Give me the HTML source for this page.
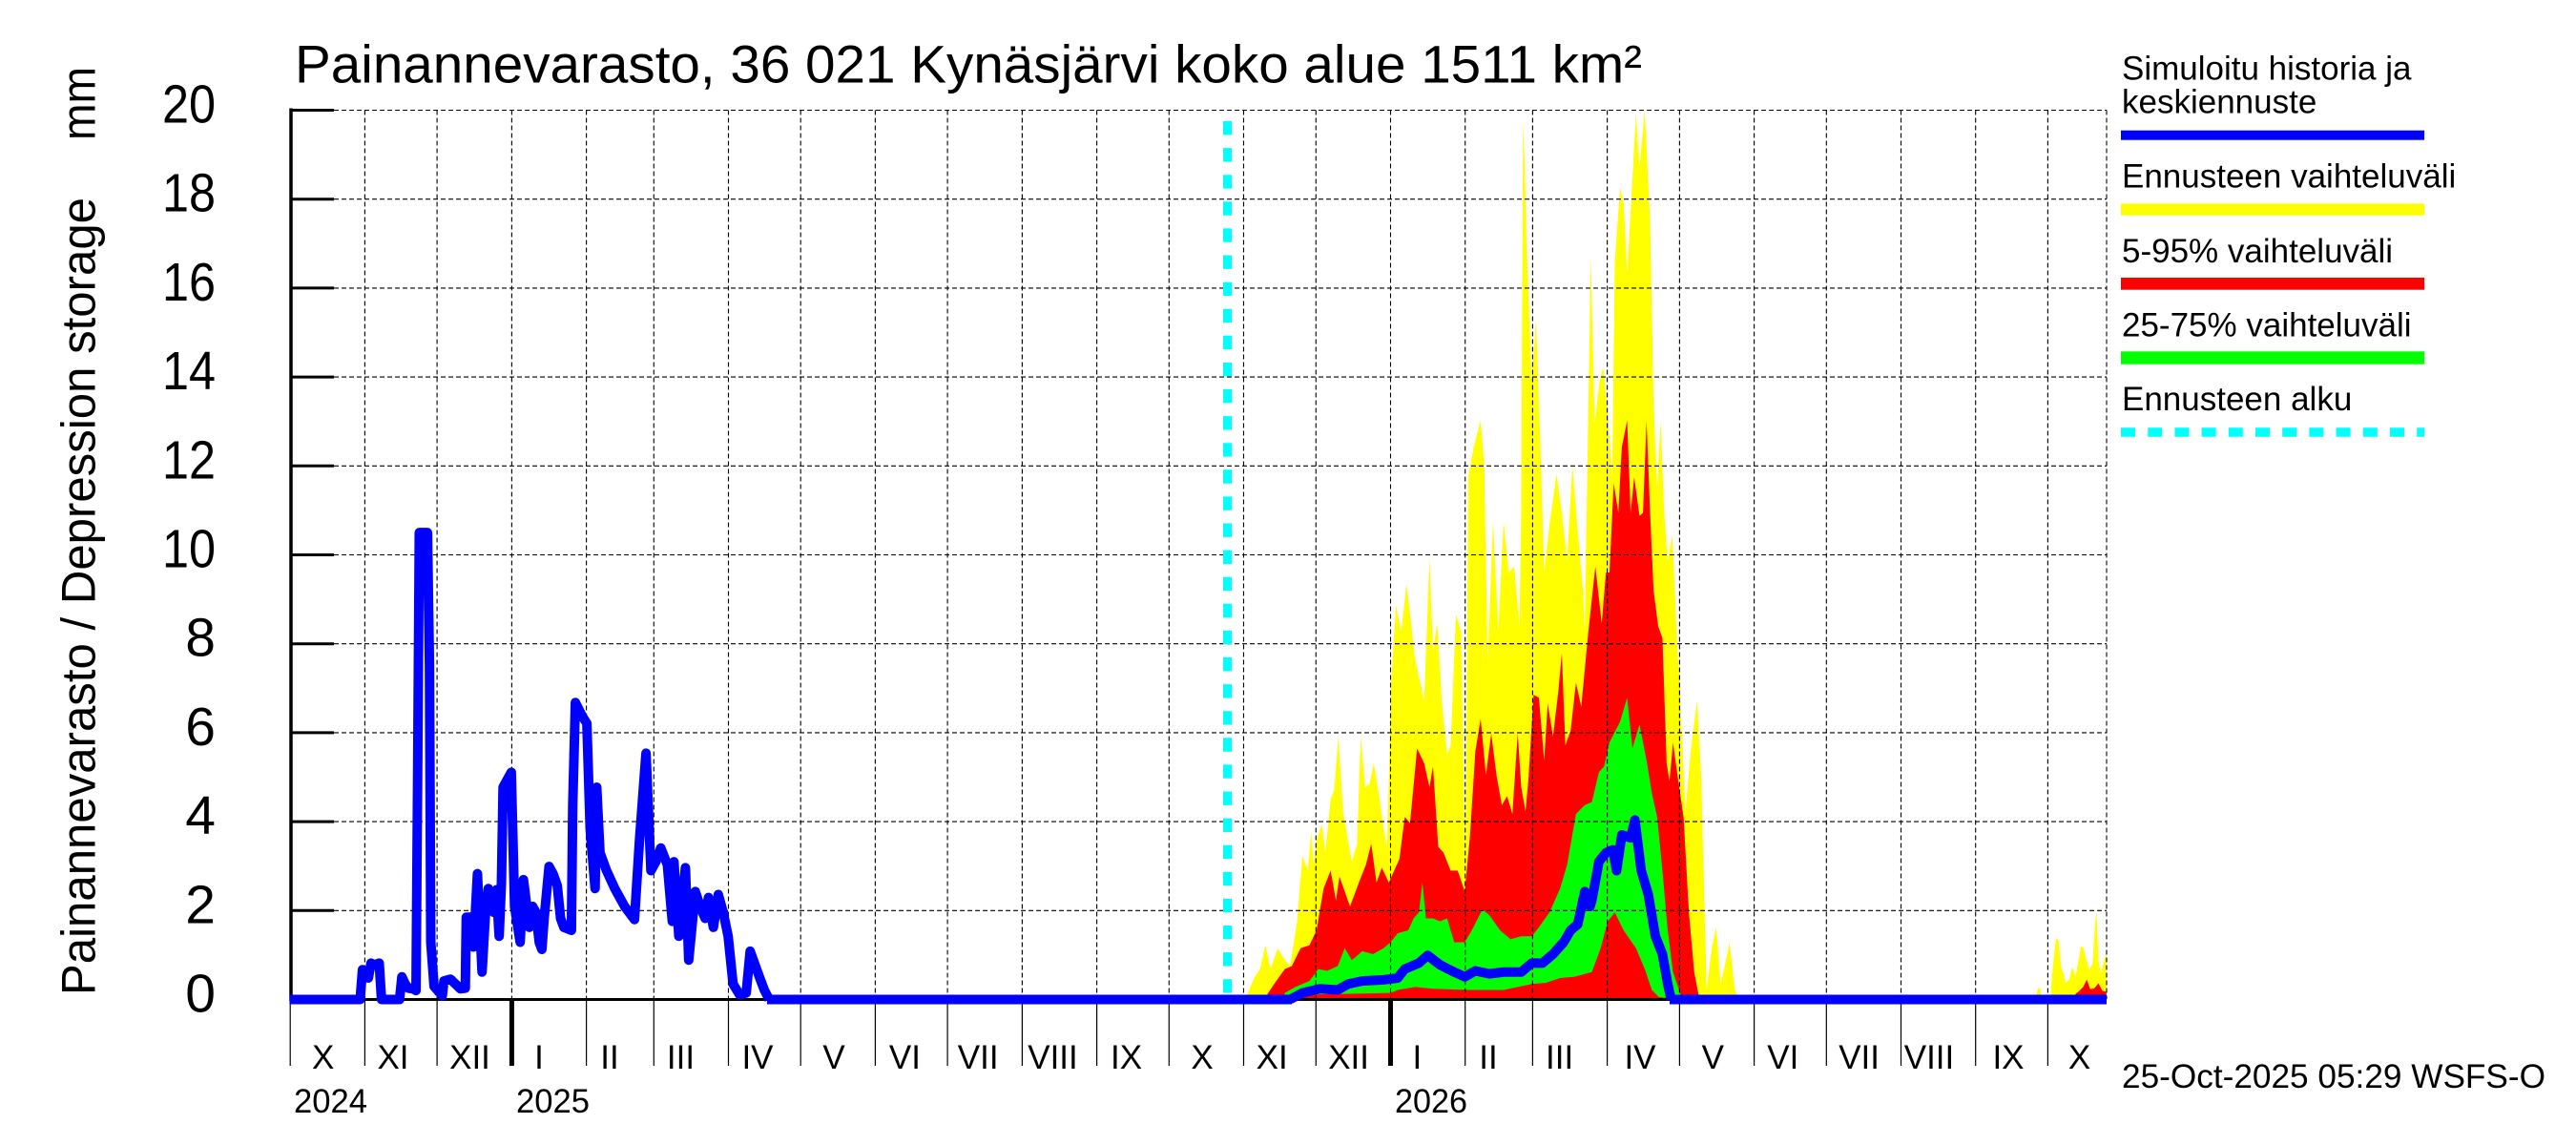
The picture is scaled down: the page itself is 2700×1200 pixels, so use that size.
<!DOCTYPE html>
<html>
<head>
<meta charset="utf-8">
<style>
  html, body { margin: 0; padding: 0; background: #ffffff; }
  svg { display: block; }
  text { font-family: "Liberation Sans", Arial, sans-serif; fill: #000; }
</style>
</head>
<body>
<svg width="2700" height="1200" viewBox="0 0 2700 1200" xmlns="http://www.w3.org/2000/svg">
  <rect x="0" y="0" width="2700" height="1200" fill="#ffffff"/>

  <!-- ===== Forecast bands (zoom-5 coordinate space) ===== -->
  <g transform="translate(1280,100) scale(0.36996,0.625)">
    <polygon fill="#ffff00" points="70,1516 75,1505 95,1478 110,1465 125,1425 140,1465 160,1430 175,1445 195,1460 215,1385 230,1275 245,1300 255,1235 262,1290 270,1250 285,1222 295,1270 310,1180 320,1165 332,1075 345,1200 358,1245 370,1285 385,1255 395,1075 408,1160 420,1155 432,1120 445,1165 460,1230 470,1260 482,980 495,855 510,900 525,820 535,870 548,940 560,975 575,1015 590,775 600,930 612,885 625,1015 640,1105 650,1090 665,870 680,900 692,1335 700,640 715,590 735,545 745,620 755,950 770,715 785,900 800,715 815,800 830,790 845,890 850,700 855,45 860,120 865,250 880,480 892,375 905,600 915,800 930,720 950,635 965,700 980,780 995,620 1010,730 1025,830 1030,900 1047,270 1058,550 1072,480 1082,455 1095,530 1108,640 1115,280 1130,155 1140,180 1150,300 1165,140 1175,30 1185,120 1200,25 1215,210 1225,520 1235,660 1245,545 1255,700 1265,780 1278,738 1290,900 1300,1000 1315,1200 1330,1100 1348,1015 1360,1145 1375,1500 1390,1430 1402,1395 1415,1490 1430,1450 1440,1420 1455,1500 1470,1516"/>
    <polygon fill="#ff0000" points="125,1516 130,1508 150,1490 180,1465 200,1460 225,1430 250,1425 270,1400 290,1330 310,1300 325,1350 335,1310 350,1335 365,1360 390,1320 410,1290 425,1255 440,1320 455,1295 475,1320 490,1300 505,1280 520,1210 535,1220 555,1095 575,1120 590,1160 600,1125 615,1260 630,1270 650,1300 670,1300 690,1335 705,1240 720,1100 735,1045 750,1140 765,1070 780,1140 795,1190 810,1175 825,1205 840,1070 850,1160 862,1200 870,1150 885,1005 900,1010 915,1115 925,1020 940,1075 955,1000 965,935 975,1090 990,1065 1005,985 1020,1025 1040,900 1060,790 1078,885 1090,800 1100,800 1112,650 1125,700 1135,590 1150,545 1160,700 1170,640 1185,705 1195,700 1205,545 1215,700 1225,830 1238,890 1250,910 1262,1120 1270,1150 1280,1085 1295,1150 1310,1210 1325,1370 1340,1470 1355,1516"/>
    <polygon fill="#00ff00" points="175,1516 180,1505 210,1495 250,1485 275,1465 300,1468 330,1460 350,1430 370,1450 400,1435 430,1440 460,1430 480,1420 500,1405 530,1400 545,1380 560,1370 570,1320 580,1380 600,1380 620,1385 640,1380 660,1420 690,1420 710,1400 740,1365 760,1375 790,1400 820,1415 850,1410 880,1410 900,1395 930,1370 960,1330 980,1290 1005,1205 1030,1190 1050,1185 1070,1135 1085,1125 1100,1085 1130,1050 1150,1010 1165,1095 1185,1055 1205,1115 1220,1170 1235,1210 1250,1300 1265,1400 1280,1470 1300,1505 1305,1516 1240,1512 1220,1500 1200,1465 1175,1430 1140,1400 1115,1370 1095,1385 1075,1430 1050,1470 1000,1478 960,1480 920,1488 880,1490 800,1500 700,1500 600,1498 550,1495 500,1500 480,1505 230,1508"/>
  </g>

  <!-- Right-end small forecast bits (zoom-6 coordinate space) -->
  <g transform="translate(1900,880) scale(0.5102,0.33333)">
    <polygon fill="#ffff00" points="458,503 462,468 467,466 471,503 488,503 492,420 496,360 500,312 505,315 510,400 515,420 520,450 527,440 533,400 540,430 546,380 551,335 556,340 561,370 568,410 575,390 580,260 583,230 587,380 592,420 597,390 603,355 603,503"/>
    <polygon fill="#ff0000" points="536,503 540,485 548,475 556,462 563,440 570,470 578,468 587,452 595,475 603,478 603,503"/>
  </g>

  <!-- ===== Grid (dashed) ===== -->
  <g stroke="#000" stroke-width="1.1" stroke-dasharray="5 3" fill="none">
    <line x1="350" y1="115.5" x2="2208" y2="115.5"/>
    <line x1="350" y1="208.7" x2="2208" y2="208.7"/>
    <line x1="350" y1="301.9" x2="2208" y2="301.9"/>
    <line x1="350" y1="395.1" x2="2208" y2="395.1"/>
    <line x1="350" y1="488.3" x2="2208" y2="488.3"/>
    <line x1="350" y1="581.5" x2="2208" y2="581.5"/>
    <line x1="350" y1="674.7" x2="2208" y2="674.7"/>
    <line x1="350" y1="767.9" x2="2208" y2="767.9"/>
    <line x1="350" y1="861.1" x2="2208" y2="861.1"/>
    <line x1="350" y1="954.3" x2="2208" y2="954.3"/>

    <line x1="382.4" y1="115.5" x2="382.4" y2="1047"/>
    <line x1="458.1" y1="115.5" x2="458.1" y2="1047"/>
    <line x1="536.4" y1="115.5" x2="536.4" y2="1047"/>
    <line x1="614.6" y1="115.5" x2="614.6" y2="1047"/>
    <line x1="685.3" y1="115.5" x2="685.3" y2="1047"/>
    <line x1="763.5" y1="115.5" x2="763.5" y2="1047"/>
    <line x1="839.2" y1="115.5" x2="839.2" y2="1047"/>
    <line x1="917.4" y1="115.5" x2="917.4" y2="1047"/>
    <line x1="993.1" y1="115.5" x2="993.1" y2="1047"/>
    <line x1="1071.4" y1="115.5" x2="1071.4" y2="1047"/>
    <line x1="1149.6" y1="115.5" x2="1149.6" y2="1047"/>
    <line x1="1225.3" y1="115.5" x2="1225.3" y2="1047"/>
    <line x1="1303.5" y1="115.5" x2="1303.5" y2="1047"/>
    <line x1="1379.3" y1="115.5" x2="1379.3" y2="1047"/>
    <line x1="1457.5" y1="115.5" x2="1457.5" y2="1047"/>
    <line x1="1535.7" y1="115.5" x2="1535.7" y2="1047"/>
    <line x1="1606.4" y1="115.5" x2="1606.4" y2="1047"/>
    <line x1="1684.6" y1="115.5" x2="1684.6" y2="1047"/>
    <line x1="1760.4" y1="115.5" x2="1760.4" y2="1047"/>
    <line x1="1838.6" y1="115.5" x2="1838.6" y2="1047"/>
    <line x1="1914.3" y1="115.5" x2="1914.3" y2="1047"/>
    <line x1="1992.5" y1="115.5" x2="1992.5" y2="1047"/>
    <line x1="2070.7" y1="115.5" x2="2070.7" y2="1047"/>
    <line x1="2146.4" y1="115.5" x2="2146.4" y2="1047"/>
    <line x1="2208" y1="115.5" x2="2208" y2="1047"/>
  </g>

  <!-- ===== Axes ===== -->
  <line x1="304" y1="1047.5" x2="2208" y2="1047.5" stroke="#000" stroke-width="3"/>
  <line x1="305" y1="113.5" x2="305" y2="1049" stroke="#000" stroke-width="3.5"/>
  <g stroke="#000" stroke-width="3">
    <line x1="304" y1="115.5" x2="350" y2="115.5"/>
    <line x1="304" y1="208.7" x2="350" y2="208.7"/>
    <line x1="304" y1="301.9" x2="350" y2="301.9"/>
    <line x1="304" y1="395.1" x2="350" y2="395.1"/>
    <line x1="304" y1="488.3" x2="350" y2="488.3"/>
    <line x1="304" y1="581.5" x2="350" y2="581.5"/>
    <line x1="304" y1="674.7" x2="350" y2="674.7"/>
    <line x1="304" y1="767.9" x2="350" y2="767.9"/>
    <line x1="304" y1="861.1" x2="350" y2="861.1"/>
    <line x1="304" y1="954.3" x2="350" y2="954.3"/>
  </g>
  <!-- month separators below axis -->
  <g stroke="#000" stroke-width="1.2">
    <line x1="304.2" y1="1047" x2="304.2" y2="1117"/>
    <line x1="382.4" y1="1047" x2="382.4" y2="1117"/>
    <line x1="458.1" y1="1047" x2="458.1" y2="1117"/>
    <line x1="614.6" y1="1047" x2="614.6" y2="1117"/>
    <line x1="685.3" y1="1047" x2="685.3" y2="1117"/>
    <line x1="763.5" y1="1047" x2="763.5" y2="1117"/>
    <line x1="839.2" y1="1047" x2="839.2" y2="1117"/>
    <line x1="917.4" y1="1047" x2="917.4" y2="1117"/>
    <line x1="993.1" y1="1047" x2="993.1" y2="1117"/>
    <line x1="1071.4" y1="1047" x2="1071.4" y2="1117"/>
    <line x1="1149.6" y1="1047" x2="1149.6" y2="1117"/>
    <line x1="1225.3" y1="1047" x2="1225.3" y2="1117"/>
    <line x1="1303.5" y1="1047" x2="1303.5" y2="1117"/>
    <line x1="1379.3" y1="1047" x2="1379.3" y2="1117"/>
    <line x1="1535.7" y1="1047" x2="1535.7" y2="1117"/>
    <line x1="1606.4" y1="1047" x2="1606.4" y2="1117"/>
    <line x1="1684.6" y1="1047" x2="1684.6" y2="1117"/>
    <line x1="1760.4" y1="1047" x2="1760.4" y2="1117"/>
    <line x1="1838.6" y1="1047" x2="1838.6" y2="1117"/>
    <line x1="1914.3" y1="1047" x2="1914.3" y2="1117"/>
    <line x1="1992.5" y1="1047" x2="1992.5" y2="1117"/>
    <line x1="2070.7" y1="1047" x2="2070.7" y2="1117"/>
    <line x1="2146.4" y1="1047" x2="2146.4" y2="1117"/>
  </g>
  <g stroke="#000" stroke-width="5">
    <line x1="536.4" y1="1047" x2="536.4" y2="1117"/>
    <line x1="1457.5" y1="1047" x2="1457.5" y2="1117"/>
  </g>

  <!-- ===== Blue lines ===== -->
  <g transform="translate(300,100) scale(0.34438,0.625)">
    <polyline fill="none" stroke="#0000ff" stroke-width="10" vector-effect="non-scaling-stroke" stroke-linejoin="round"
      points="10,1516 225,1516 232,1466 240,1474 250,1480 258,1455 270,1458 283,1455 290,1516 345,1516 352,1478 362,1490 372,1497 385,1498 395,1501 400,1138 405,733 430,733 436,958 440,1420 450,1494 475,1510 480,1485 500,1482 530,1498 545,1497 548,1378 565,1378 570,1428 582,1305 596,1470 606,1375 615,1330 625,1345 632,1370 640,1332 648,1410 655,1320 660,1160 685,1135 695,1360 712,1420 722,1315 740,1395 750,1360 760,1370 770,1420 778,1432 785,1380 800,1293 812,1305 825,1325 835,1380 845,1395 868,1400 872,1190 880,1018 900,1040 915,1053 925,1230 940,1330 945,1160 955,1270 975,1300 1000,1330 1030,1360 1060,1382 1075,1250 1095,1103 1110,1300 1125,1285 1140,1262 1160,1290 1175,1385 1180,1285 1195,1410 1215,1295 1225,1450 1245,1335 1260,1360 1275,1380 1285,1345 1300,1395 1315,1340 1330,1370 1345,1410 1360,1490 1380,1508 1400,1505 1412,1435 1425,1455 1440,1478 1455,1500 1470,1516"/>
  </g>
  <g transform="translate(1280,100) scale(0.36996,0.625)">
    <polyline fill="none" stroke="#0000ff" stroke-width="10" vector-effect="non-scaling-stroke" stroke-linejoin="round"
      points="195,1516 230,1505 280,1498 330,1500 360,1490 400,1485 460,1483 500,1480 520,1465 560,1455 585,1442 620,1458 660,1470 690,1478 720,1468 760,1473 800,1470 850,1470 880,1455 910,1455 940,1440 970,1420 990,1400 1010,1390 1030,1335 1045,1360 1050,1350 1070,1285 1090,1270 1110,1265 1120,1300 1135,1240 1160,1245 1172,1215 1190,1300 1210,1340 1230,1410 1250,1440 1265,1490 1275,1516"/>
  </g>
  <line x1="804" y1="1047.5" x2="1354" y2="1047.5" stroke="#0000ff" stroke-width="10"/>
  <line x1="1750" y1="1047.5" x2="2208" y2="1047.5" stroke="#0000ff" stroke-width="10"/>

  <!-- Forecast start -->
  <line x1="1286.5" y1="127" x2="1286.5" y2="1047" stroke="#00ffff" stroke-width="9" stroke-dasharray="14.4 13.7"/>

  <!-- ===== Texts ===== -->
  <text x="309" y="86.5" font-size="56" textLength="1412" lengthAdjust="spacingAndGlyphs">Painannevarasto, 36 021 Kynäsjärvi koko alue 1511 km²</text>

  <text transform="translate(99.5,1043) rotate(-90)" font-size="50" textLength="836" lengthAdjust="spacingAndGlyphs">Painannevarasto / Depression storage</text>
  <text transform="translate(99.5,147) rotate(-90)" font-size="50" textLength="77" lengthAdjust="spacingAndGlyphs">mm</text>

  <g font-size="57" text-anchor="end">
    <text x="226" y="128.5" textLength="56" lengthAdjust="spacingAndGlyphs">20</text>
    <text x="226" y="221.7" textLength="56" lengthAdjust="spacingAndGlyphs">18</text>
    <text x="226" y="314.9" textLength="56" lengthAdjust="spacingAndGlyphs">16</text>
    <text x="226" y="408.1" textLength="56" lengthAdjust="spacingAndGlyphs">14</text>
    <text x="226" y="501.3" textLength="56" lengthAdjust="spacingAndGlyphs">12</text>
    <text x="226" y="594.5" textLength="56" lengthAdjust="spacingAndGlyphs">10</text>
    <text x="226" y="687.7">8</text>
    <text x="226" y="780.9">6</text>
    <text x="226" y="874.1">4</text>
    <text x="226" y="967.3">2</text>
    <text x="226" y="1060.5">0</text>
  </g>

  <g font-size="35" text-anchor="middle">
    <text x="338.7" y="1120">X</text>
    <text x="412" y="1120">XI</text>
    <text x="492.5" y="1120">XII</text>
    <text x="565" y="1120">I</text>
    <text x="639" y="1120">II</text>
    <text x="713.5" y="1120">III</text>
    <text x="794" y="1120">IV</text>
    <text x="874" y="1120">V</text>
    <text x="948.4" y="1120">VI</text>
    <text x="1025.2" y="1120">VII</text>
    <text x="1103.5" y="1120">VIII</text>
    <text x="1180.6" y="1120">IX</text>
    <text x="1260" y="1120">X</text>
    <text x="1333.2" y="1120">XI</text>
    <text x="1413.6" y="1120">XII</text>
    <text x="1485.4" y="1120">I</text>
    <text x="1560" y="1120">II</text>
    <text x="1634.6" y="1120">III</text>
    <text x="1719" y="1120">IV</text>
    <text x="1795.3" y="1120">V</text>
    <text x="1868.8" y="1120">VI</text>
    <text x="1948.6" y="1120">VII</text>
    <text x="2022" y="1120">VIII</text>
    <text x="2105" y="1120">IX</text>
    <text x="2179.6" y="1120">X</text>
  </g>
  <g font-size="35">
    <text x="308" y="1166" textLength="77" lengthAdjust="spacingAndGlyphs">2024</text>
    <text x="541" y="1166" textLength="77" lengthAdjust="spacingAndGlyphs">2025</text>
    <text x="1462" y="1166" textLength="76" lengthAdjust="spacingAndGlyphs">2026</text>
  </g>

  <text x="2224" y="1140" font-size="35" textLength="444" lengthAdjust="spacingAndGlyphs">25-Oct-2025 05:29 WSFS-O</text>

  <!-- ===== Legend ===== -->
  <g font-size="35">
    <text x="2224" y="83.3">Simuloitu historia ja</text>
    <text x="2224" y="118.3">keskiennuste</text>
    <text x="2224" y="196.7">Ennusteen vaihteluväli</text>
    <text x="2224" y="275">5-95% vaihteluväli</text>
    <text x="2224" y="352.3">25-75% vaihteluväli</text>
    <text x="2224" y="430">Ennusteen alku</text>
  </g>
  <rect x="2223" y="136.7" width="318" height="10" fill="#0000ff"/>
  <rect x="2223" y="213.3" width="318" height="12.4" fill="#ffff00"/>
  <rect x="2223" y="291" width="318" height="12.7" fill="#ff0000"/>
  <rect x="2223" y="368.3" width="318" height="13.4" fill="#00ff00"/>
  <line x1="2223" y1="453" x2="2541" y2="453" stroke="#00ffff" stroke-width="9.4" stroke-dasharray="15 13.2"/>
</svg>
</body>
</html>
